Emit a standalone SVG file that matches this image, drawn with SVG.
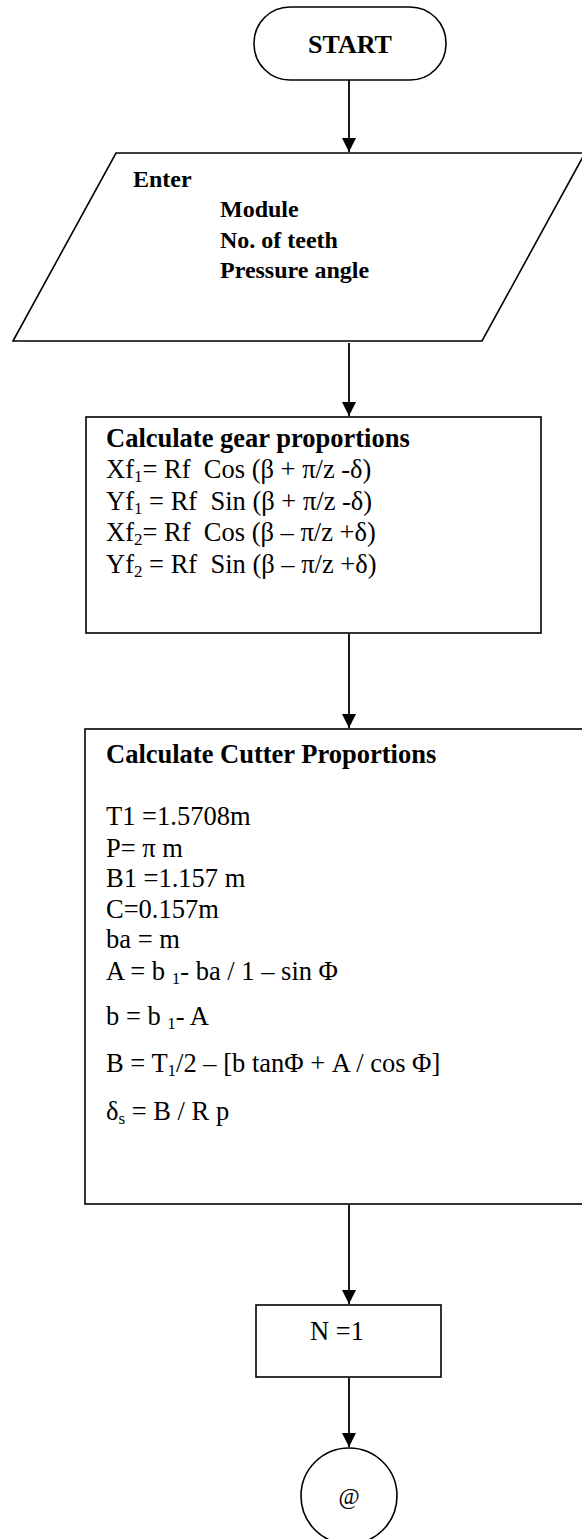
<svg xmlns="http://www.w3.org/2000/svg" width="582" height="1539" viewBox="0 0 582 1539">
<defs>
<marker id="arr" markerWidth="14" markerHeight="14" refX="14" refY="7" orient="auto" markerUnits="userSpaceOnUse">
<path d="M0,0 L14,7 L0,14 Z" fill="#000"/>
</marker>
<style>
.shape{fill:#fff;stroke:#000;stroke-width:1.6}
.conn{stroke:#000;stroke-width:1.8;fill:none}
text{font-family:"Liberation Serif","Times New Roman",serif;fill:#000;white-space:pre}
.b{font-weight:bold}
.t26{font-size:26.5px}
.t24{font-size:24px}
.sub{font-size:17px}
</style>
</defs>
<rect width="582" height="1539" fill="#fff"/>
<g id="connectors">
<line class="conn" x1="349" y1="80" x2="349" y2="152" marker-end="url(#arr)"/>
<line class="conn" x1="349" y1="343" x2="349" y2="416" marker-end="url(#arr)"/>
<line class="conn" x1="349" y1="634" x2="349" y2="728" marker-end="url(#arr)"/>
<line class="conn" x1="349" y1="1205" x2="349" y2="1304" marker-end="url(#arr)"/>
<line class="conn" x1="349" y1="1378" x2="349" y2="1447" marker-end="url(#arr)"/>
</g>
<g id="start">
<rect class="shape" x="254" y="7" width="192" height="73" rx="36" ry="36"/>
<text class="b" x="350" y="53" font-size="26" text-anchor="middle">START</text>
</g>
<g id="input">
<polygon class="shape" points="116,153 585,153 482,341 13,341"/>
<text class="b t24" x="133" y="187">Enter</text>
<text class="b t24" x="220" y="217">Module</text>
<text class="b t24" x="220" y="248">No. of teeth</text>
<text class="b t24" x="220" y="278">Pressure angle</text>
</g>
<g id="gear">
<rect class="shape" x="86" y="417" width="455" height="216"/>
<text class="b t26" x="106" y="447">Calculate gear proportions</text>
<text class="t26" x="106" y="478">Xf<tspan class="sub" dy="4">1</tspan><tspan dy="-4">= Rf  Cos (β + π/z -δ)</tspan></text>
<text class="t26" x="106" y="510">Yf<tspan class="sub" dy="4">1</tspan><tspan dy="-4"> = Rf  Sin (β + π/z -δ)</tspan></text>
<text class="t26" x="106" y="541">Xf<tspan class="sub" dy="4">2</tspan><tspan dy="-4">= Rf  Cos (β – π/z +δ)</tspan></text>
<text class="t26" x="106" y="573">Yf<tspan class="sub" dy="4">2</tspan><tspan dy="-4"> = Rf  Sin (β – π/z +δ)</tspan></text>
</g>
<g id="cutter">
<rect class="shape" x="85" y="729" width="500" height="475"/>
<text class="b t26" x="106" y="763">Calculate Cutter Proportions</text>
<text class="t26" x="106" y="825">T1 =1.5708m</text>
<text class="t26" x="106" y="857">P= π m</text>
<text class="t26" x="106" y="887">B1 =1.157 m</text>
<text class="t26" x="106" y="918">C=0.157m</text>
<text class="t26" x="106" y="948">ba = m</text>
<text class="t26" x="106" y="980">A = b <tspan class="sub" dy="4">1</tspan><tspan dy="-4">- ba / 1 – sin Φ</tspan></text>
<text class="t26" x="106" y="1025">b = b <tspan class="sub" dy="4">1</tspan><tspan dy="-4">- A</tspan></text>
<text class="t26" x="106" y="1072">B = T<tspan class="sub" dy="4">1</tspan><tspan dy="-4">/2 – [b tanΦ + A / cos Φ]</tspan></text>
<text class="t26" x="106" y="1120">δ<tspan class="sub" dy="4">s</tspan><tspan dy="-4"> = B / R p</tspan></text>
</g>
<g id="n1">
<rect class="shape" x="256" y="1305" width="185" height="72"/>
<text class="t26" x="310" y="1340">N =1</text>
</g>
<g id="connector-at">
<circle class="shape" cx="349" cy="1496" r="48"/>
<text x="349" y="1504" font-family="DejaVu Sans, sans-serif" font-size="23" text-anchor="middle">@</text>
</g>
</svg>
